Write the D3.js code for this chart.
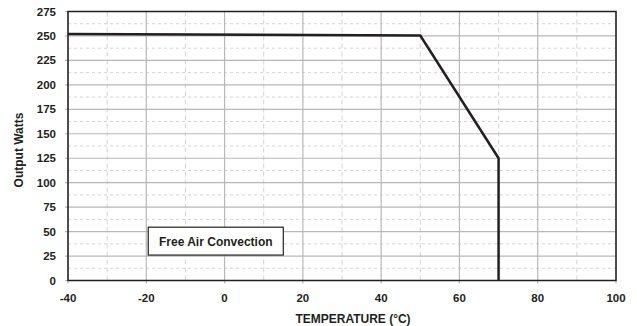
<!DOCTYPE html>
<html>
<head>
<meta charset="utf-8">
<script src="https://cdn.jsdelivr.net/npm/d3@7"></script>
<style>
  body { margin: 0; background: #fff; }
  text { font-family: "Liberation Sans", Arial, sans-serif; font-weight: bold; fill: #231f20; }
</style>
</head>
<body>
<div id="chart"></div>
<script>
var temps = [-40, 50, 70, 70];
var watts = [252, 250.5, 125, 0];
var xTicks = [-40, -20, 0, 20, 40, 60, 80, 100];
var yTicks = [0, 25, 50, 75, 100, 125, 150, 175, 200, 225, 250, 275];
var xMinor = [-30, -10, 10, 30, 50, 70, 90];
var yMinor = [12.5, 37.5, 62.5, 87.5, 112.5, 137.5, 162.5, 187.5, 212.5, 237.5, 262.5];
var noteBox = { x0: -19.5, x1: 15, y0: 26, y1: 54.5, label: "Free Air Convection" };

var W = 637, H = 326;
var m = { left: 68, right: 21, top: 11.5, bottom: 45.5 };

var svg = d3.select('#chart').append('svg')
    .attr('width', W).attr('height', H);

var x = d3.scaleLinear().domain([-40, 100]).range([m.left, W - m.right]);
var y = d3.scaleLinear().domain([0, 275]).range([H - m.bottom, m.top]);

// minor dashed grid
svg.selectAll('.vminor').data(xMinor).enter().append('line')
  .attr('x1', d => x(d)).attr('x2', d => x(d))
  .attr('y1', y(275)).attr('y2', y(0))
  .attr('stroke', '#d4d4d4').attr('stroke-width', 1)
  .attr('stroke-dasharray', '5,3');
svg.selectAll('.hminor').data(yMinor).enter().append('line')
  .attr('x1', x(-40)).attr('x2', x(100))
  .attr('y1', d => y(d)).attr('y2', d => y(d))
  .attr('stroke', '#d4d4d4').attr('stroke-width', 1)
  .attr('stroke-dasharray', '3,3');

// major grid
svg.selectAll('.vmajor').data(xTicks).enter().append('line')
  .attr('x1', d => x(d)).attr('x2', d => x(d))
  .attr('y1', y(275)).attr('y2', y(0) + 3)
  .attr('stroke', '#b8b8b8').attr('stroke-width', 1.2);
svg.selectAll('.hmajor').data(yTicks).enter().append('line')
  .attr('x1', x(-40) - 3).attr('x2', x(100))
  .attr('y1', d => y(d)).attr('y2', d => y(d))
  .attr('stroke', '#b8b8b8').attr('stroke-width', 1.2);

// frame
svg.append('rect')
  .attr('x', x(-40)).attr('y', y(275))
  .attr('width', x(100) - x(-40)).attr('height', y(0) - y(275))
  .attr('fill', 'none').attr('stroke', '#231f20').attr('stroke-width', 1.5);

// tick labels
svg.selectAll('.xl').data(xTicks).enter().append('text')
  .attr('x', d => x(d)).attr('y', y(0) + 21)
  .attr('text-anchor', 'middle').attr('font-size', 11.5)
  .text(d => d);
svg.selectAll('.yl').data(yTicks).enter().append('text')
  .attr('x', x(-40) - 12).attr('y', d => y(d) + 4)
  .attr('text-anchor', 'end').attr('font-size', 11.5)
  .text(d => d);

// axis titles
svg.append('text')
  .attr('x', (x(-40) + x(100)) / 2 + 11).attr('y', 323)
  .attr('text-anchor', 'middle').attr('font-size', 12)
  .text('TEMPERATURE (°C)');
svg.append('text')
  .attr('transform', 'translate(23,' + ((y(0) + y(275)) / 2 + 4) + ') rotate(-90)')
  .attr('text-anchor', 'middle').attr('font-size', 12)
  .text('Output Watts');

// note box
svg.append('rect')
  .attr('x', x(noteBox.x0)).attr('y', y(noteBox.y1))
  .attr('width', x(noteBox.x1) - x(noteBox.x0))
  .attr('height', y(noteBox.y0) - y(noteBox.y1))
  .attr('fill', '#fff').attr('stroke', '#231f20').attr('stroke-width', 1.2);
svg.append('text')
  .attr('x', (x(noteBox.x0) + x(noteBox.x1)) / 2)
  .attr('y', (y(noteBox.y0) + y(noteBox.y1)) / 2 + 4.5)
  .attr('text-anchor', 'middle').attr('font-size', 12)
  .text(noteBox.label);

// derating curve
var pts = temps.map((t, i) => [t, watts[i]]);
svg.append('path')
  .datum(pts)
  .attr('fill', 'none').attr('stroke', '#231f20').attr('stroke-width', 2.5)
  .attr('stroke-linejoin', 'miter')
  .attr('d', d3.line().x(d => x(d[0])).y(d => y(d[1])));
</script>
</body>
</html>
